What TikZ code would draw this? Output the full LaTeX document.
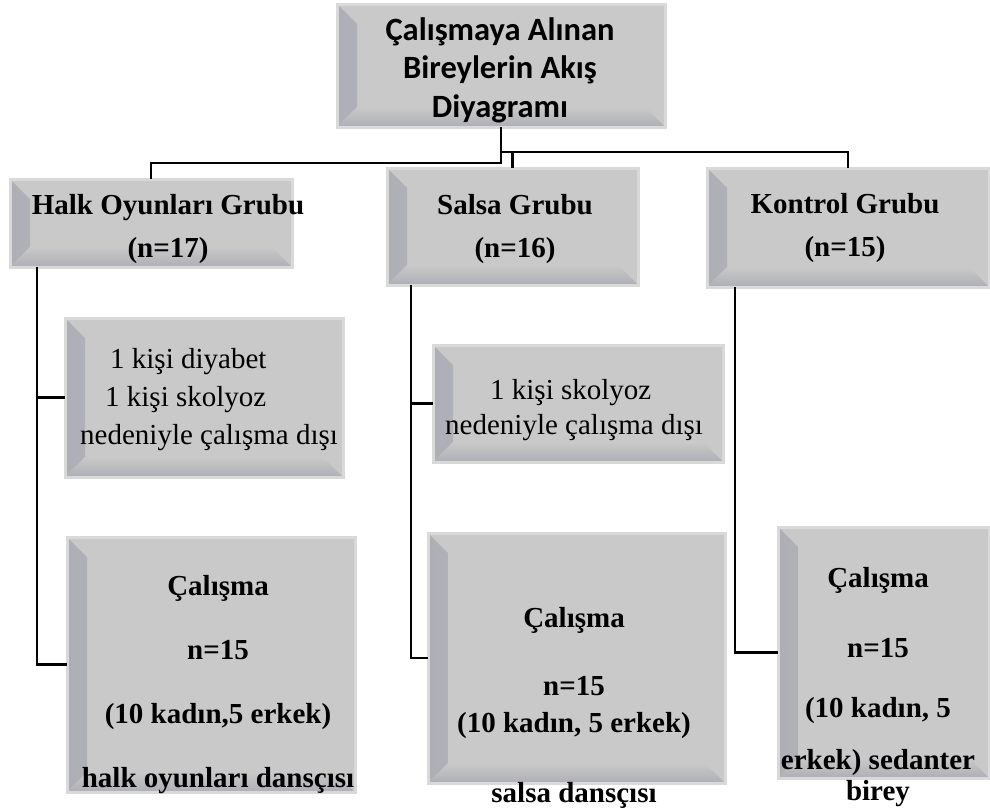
\documentclass[tikz,border=0pt]{standalone}
\usepackage{fontspec}
\setmainfont{Liberation Serif}
\newfontfamily\boxsans{Carlito}
\usetikzlibrary{calc}
\definecolor{boxface}{HTML}{C9C9C9}
\definecolor{boxshade}{HTML}{AEAEB6}
\definecolor{boxedge}{HTML}{D9D9D9}
\tikzset{
  bevelbox/.style n args={2}{draw=boxedge, line width=3pt, fill=boxface, inner sep=0pt, outer sep=0pt,
    minimum width=#1, minimum height=#2, path picture={
      \shade[left color=boxshade, right color=boxface] (path picture bounding box.south west) -- ++(20pt,20pt)
        -- ($(path picture bounding box.north west)+(20pt,-20pt)$) -- (path picture bounding box.north west) -- cycle;
      \shade[bottom color=boxshade, top color=boxface] (path picture bounding box.south west) -- (path picture bounding box.south east)
        -- ++(-20pt,20pt) -- ($(path picture bounding box.south west)+(20pt,20pt)$) -- cycle;
    }},
  titletext/.style={font=\boxsans\bfseries\fontsize{32.5pt}{38.5pt}\selectfont, align=center, inner sep=0pt},
  grouptext/.style={font=\bfseries\fontsize{29pt}{43pt}\selectfont, align=center, inner sep=0pt},
  outtext/.style={font=\fontsize{29pt}{#1}\selectfont, align=left, inner sep=0pt, anchor=west},
  studytext/.style={font=\bfseries\fontsize{29pt}{#1}\selectfont, align=center, inner sep=0pt},
  link/.style={line width=2.8pt, black}
}
\begin{document}
\begin{tikzpicture}[x=1pt, y=1pt]
\useasboundingbox (0,0) rectangle (990,-809);
% boxes
\node[bevelbox={328pt}{123pt}] (top) at (501,-65.5) {};
\node[bevelbox={282pt}{88pt}] (halk) at (151,-223) {};
\node[bevelbox={251pt}{117pt}] (salsa) at (512.5,-226.5) {};
\node[bevelbox={282pt}{119pt}] (kontrol) at (848,-227.5) {};
\node[bevelbox={278pt}{159pt}] (halkout) at (204,-397.5) {};
\node[bevelbox={290pt}{117pt}] (salsaout) at (578,-403.5) {};
\node[bevelbox={288pt}{255pt}] (halkin) at (211,-664.5) {};
\node[bevelbox={297pt}{250pt}] (salsain) at (576.5,-658) {};
\node[bevelbox={211pt}{251pt}] (kontrolin) at (883.5,-652.5) {};
% texts
\node[titletext] (toptext) at (500,-70) {Çalışmaya Alınan\\Bireylerin Akış\\Diyagramı};
\node[grouptext] (halktext) at (168,-229.5) {Halk Oyunları Grubu\\(n=17)};
\node[grouptext] (salsatext) at (515,-229.5) {Salsa Grubu\\(n=16)};
\node[grouptext] (kontroltext) at (845,-228.5) {Kontrol Grubu\\(n=15)};
\node[outtext=38pt] (halkouttext) at (80,-400) {\hspace*{30pt}1 kişi diyabet\\\hspace*{25pt}1 kişi skolyoz\\nedeniyle çalışma dışı};
\node[outtext=35pt] (salsaouttext) at (445,-410.5) {\hspace*{45pt}1 kişi skolyoz\\nedeniyle çalışma dışı};
\node[studytext=64pt] (halkintext) at (218,-685) {Çalışma\\n=15\\(10 kadın,5 erkek)\\halk oyunları dansçısı};
\node[studytext=37pt] (salsaintext) at (574,-708) {Çalışma\\[31pt]n=15\\(10 kadın, 5 erkek)\\[33pt]salsa dansçısı};
\node[studytext=31pt] (kontrolintext) at (878,-687.5) {Çalışma\\[39pt]n=15\\[29pt](10 kadın, 5\\[21pt]erkek) sedanter\\birey};
% connectors
\coordinate (split) at ($(top.south)+(0,-25)$);
\draw[link] (top.south) -- ++(0,-36) -| (halk.north);
\draw[link] (split) -| (kontrol.north);
\draw[link] (split -| salsa.north) -- (salsa.north);
\coordinate (halkrail) at ($(halk.south west)+(27,0)$);
\draw[link] (halkrail) |- (halkin.west);
\draw[link] (halkrail |- halkout.west) -- (halkout.west);
\coordinate (salsarail) at ($(salsa.south west)+(24,0)$);
\draw[link] (salsarail) |- (salsain.west);
\draw[link] (salsarail |- salsaout.west) -- (salsaout.west);
\coordinate (kontrolrail) at ($(kontrol.south west)+(28,0)$);
\draw[link] (kontrolrail) |- (kontrolin.west);
\end{tikzpicture}
\end{document}
